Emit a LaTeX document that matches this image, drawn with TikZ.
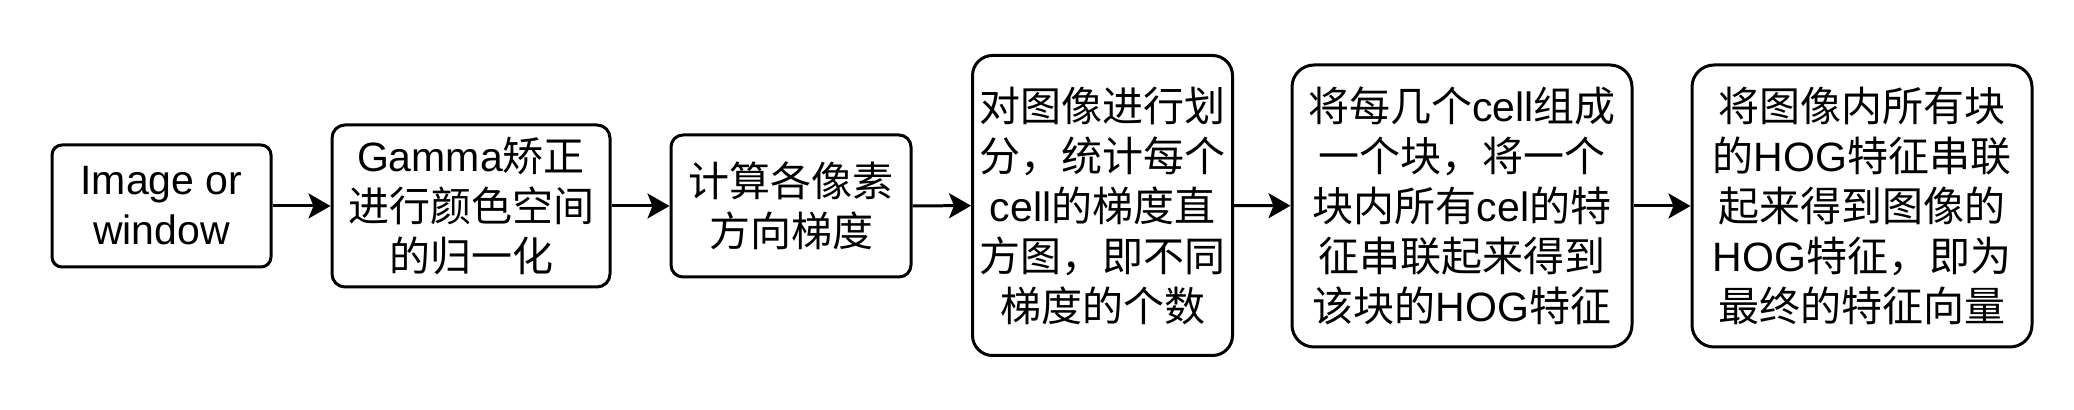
\documentclass[tikz,border=0pt]{standalone}
\usepackage{fontspec}
\setmainfont{Liberation Sans}
\newfontfamily\cjk{Noto Sans CJK SC}
\usetikzlibrary{arrows.meta}
\begin{document}
\begin{tikzpicture}[x=0.5pt,y=-0.5pt,
  box/.style={draw, line width=1.5pt, align=center, inner sep=0pt,
    font=\fontsize{20.5}{25}\selectfont},
  flow/.style={line width=1.5pt, -{Stealth[length=11pt,width=12.5pt,inset=2.5pt]}}]
\useasboundingbox (0,0) rectangle (2074,410);
\node[box, rounded corners=5pt, minimum width=109.5pt, minimum height=61pt] (b1) at (161.5,206)
  {Image or\\window};
\node[box, rounded corners=6.5pt, minimum width=139pt, minimum height=81pt] (b2) at (471,206)
  {Gamma{\cjk 矫正}\\{\cjk 进行颜色空间}\\{\cjk 的归一化}};
\node[box, rounded corners=6pt, minimum width=120pt, minimum height=71pt] (b3) at (791,206)
  {{\cjk 计算各像素}\\{\cjk 方向梯度}};
\node[box, rounded corners=10pt, minimum width=130pt, minimum height=150pt] (b4) at (1102.5,205.5)
  {{\cjk 对图像进行划}\\{\cjk 分，统计每个}\\cell{\cjk 的梯度直}\\{\cjk 方图，即不同}\\{\cjk 梯度的个数}};
\node[box, rounded corners=11pt, minimum width=170pt, minimum height=141pt] (b5) at (1462,206)
  {{\cjk 将每几个}cell{\cjk 组成}\\{\cjk 一个块，将一个}\\{\cjk 块内所有}cel{\cjk 的特}\\{\cjk 征串联起来得到}\\{\cjk 该块的}HOG{\cjk 特征}};
\node[box, rounded corners=11pt, minimum width=170pt, minimum height=141pt] (b6) at (1862,206)
  {{\cjk 将图像内所有块}\\{\cjk 的}HOG{\cjk 特征串联}\\{\cjk 起来得到图像的}\\HOG{\cjk 特征，即为}\\{\cjk 最终的特征向量}};
\draw[flow] (b1) -- (b2);
\draw[flow] (b2) -- (b3);
\draw[flow] (b3) -- (b4);
\draw[flow] (b4) -- (b5);
\draw[flow] (b5) -- (b6);
\end{tikzpicture}
\end{document}
